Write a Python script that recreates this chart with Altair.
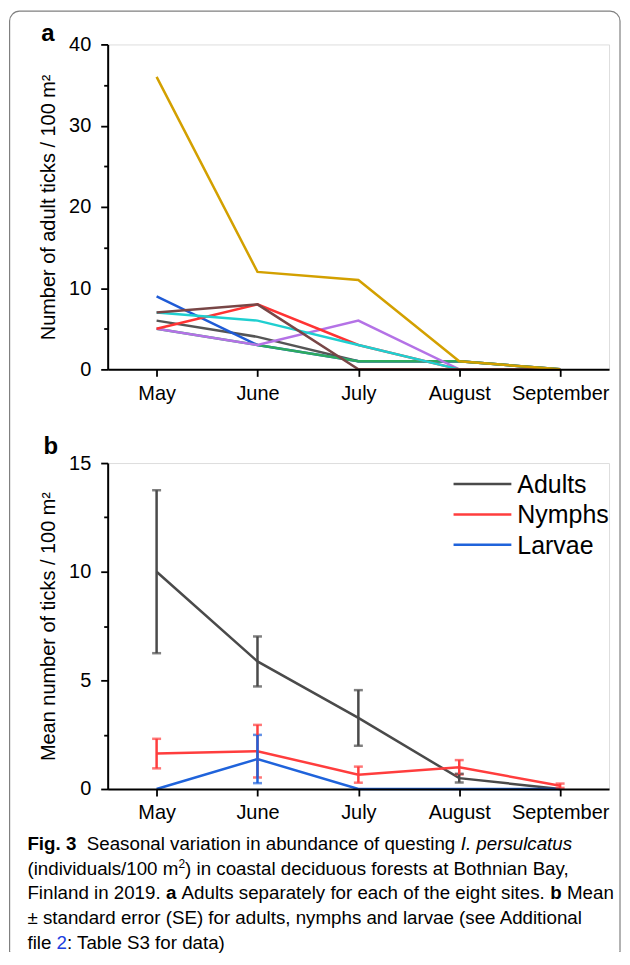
import altair as alt
import pandas as pd

months = ["May", "June", "July", "August", "September"]

# Panel a: adult ticks per site
site_names = ["s_gray", "s_blue", "s_green", "s_purple", "s_red", "s_cyan", "s_brown", "s_gold"]
site_gray = [6, 4, 1, 1, 0]
site_blue = [9, 3, 1, 1, 0]
site_green = [5, 3, 1, 1, 0]
site_purple = [5, 3, 6, 0, 0]
site_red = [5, 8, 3, 0, 0]
site_cyan = [7, 6, 3, 0, 0]
site_brown = [7, 8, 0, 0, 0]
site_gold = [36, 12, 11, 1, 0]
site_values = [site_gray, site_blue, site_green, site_purple, site_red, site_cyan, site_brown, site_gold]
site_colors = ["#555555", "#1F5BD6", "#2DAA5F", "#B472E6", "#FF3333", "#1FCFD0", "#784646", "#D3A000"]

# Panel b: mean +- SE
series = ["Adults", "Nymphs", "Larvae"]
series_colors = ["#4A4A4A", "#FF3D3D", "#1F63DB"]
adult_mean = [10.0, 5.87, 3.27, 0.5, 0.0]
adult_se = [3.75, 1.15, 1.28, 0.2, 0.0]
nymph_mean = [1.63, 1.74, 0.66, 1.0, 0.15]
nymph_se = [0.68, 1.21, 0.37, 0.33, 0.1]
larvae_mean = [0.0, 1.38, 0.0, 0.0, 0.0]
larvae_se = [0.0, 1.11, 0.0, 0.0, 0.0]

W, HA, HB = 503, 326, 327
OX, OYA, OYB = 107, 42, 462  # page origins of the plot areas

AX = dict(labelFont="Liberation Sans", titleFont="Liberation Sans", labelFontSize=20,
          titleFontSize=20, labelColor="black", titleColor="black", domainColor="black",
          tickColor="black", domainWidth=2, tickWidth=1.8, grid=False,
          titleFontWeight="normal", zindex=1)

x_scale = alt.Scale(type="point", domain=months, padding=0.485)
x_axis = alt.Axis(title=None, labelAngle=0, tickSize=7, labelPadding=7, **AX)


def y_axis(title, step, major, top, h):
    n = int(round(top / step))
    vals = [i * step for i in range(n + 1)]
    return alt.Axis(title=title, values=vals,
                    labelExpr=f"datum.value % {major} === 0 ? datum.label : ''",
                    tickSize={"condition": {"test": f"datum.value % {major} === 0", "value": 7}, "value": 4},
                    labelPadding=10, titleX=-59, titleY=h / 2, titleAngle=-90,
                    titleAlign="center", titleBaseline="middle", **AX)


ya_axis = y_axis("Number of adult ticks / 100 m²", 5, 10, 40, HA)
yb_axis = y_axis("Mean number of ticks / 100 m²", 2.5, 5, 15, HB)

one = alt.Data(values=[{}])

# ---------- panel a ----------
FR_L, FR_R, FR_T, FR_B = 8, 621, 8, 952
layers_a = []
frame = alt.Chart(one).mark_rect(fill="white", fillOpacity=0, stroke="#808080", strokeWidth=1.2,
                                 cornerRadiusTopLeft=10, cornerRadiusTopRight=10).encode(
    x=alt.value(FR_L + 0.6 - OX), x2=alt.value(FR_R - OX),
    y=alt.value(FR_T + 0.6 - OYA), y2=alt.value(FR_B - OYA))
frame_cut = alt.Chart(one).mark_rule(color="white", strokeWidth=3).encode(
    x=alt.value(FR_L + 1.3 - OX), x2=alt.value(FR_R - 0.7 - OX), y=alt.value(FR_B - OYA))
layers_a += [frame, frame_cut]
for name, vals, col in zip(site_names, site_values, site_colors):
    df = pd.DataFrame({"month": months, "value": vals})
    layers_a.append(
        alt.Chart(df).mark_line(color=col, strokeWidth=2.5).encode(
            x=alt.X("month:N", scale=x_scale, axis=x_axis, sort=months),
            y=alt.Y("value:Q", scale=alt.Scale(domain=[0, 40], nice=False), axis=ya_axis)))
lab_a = alt.Chart(one).mark_text(text="a", fontWeight="bold", fontSize=24, font="Liberation Sans",
                                 align="center", baseline="alphabetic").encode(
    x=alt.value(47 - OX), y=alt.value(39 - OYA))
layers_a.append(lab_a)
panel_a = alt.layer(*layers_a).properties(width=W, height=HA)

# ---------- panel b ----------
rows = []
for s, m, e in zip(series, [adult_mean, nymph_mean, larvae_mean], [adult_se, nymph_se, larvae_se]):
    for mo, mv, ev in zip(months, m, e):
        rows.append({"series": s, "month": mo, "mean": mv, "lo": mv - ev, "hi": mv + ev, "se": ev})
dfb = pd.DataFrame(rows)

yb_scale = alt.Scale(domain=[0, 15], nice=False)
color_b = alt.Color("series:N", scale=alt.Scale(domain=series, range=series_colors), legend=None)

lines_b = alt.Chart(dfb).transform_calculate(
    month_idx="indexof(['May','June','July','August','September'], datum.month)"
).mark_line(strokeWidth=2.5).encode(
    x=alt.X("month:N", scale=x_scale, axis=x_axis, sort=months),
    y=alt.Y("mean:Q", scale=yb_scale, axis=yb_axis),
    color=color_b,
    order=alt.Order("month_idx:Q"),
)

err_b = alt.Chart(dfb).transform_filter("datum.se > 0").mark_errorbar(
    thickness=2.5, ticks={"size": 9, "thickness": 2.5}).encode(
    x=alt.X("month:N", scale=x_scale, axis=x_axis, sort=months),
    y=alt.Y("lo:Q", scale=yb_scale, axis=yb_axis),
    y2="hi:Q",
    color=color_b,
)

lab_b = alt.Chart(one).mark_text(text="b", fontWeight="bold", fontSize=24, font="Liberation Sans",
                                 align="center", baseline="alphabetic").encode(
    x=alt.value(50 - OX), y=alt.value(453 - OYB))

# legend (drawn by hand for exact spacing)
leg_layers = []
for i, (s, col) in enumerate(zip(series, series_colors)):
    yy = 483 + 30.5 * i - OYB
    leg_layers.append(alt.Chart(one).mark_rule(color=col, strokeWidth=2.5).encode(
        x=alt.value(454 - OX), x2=alt.value(512 - OX), y=alt.value(yy)))
    leg_layers.append(alt.Chart(one).mark_text(text=s, font="Liberation Sans", fontSize=25,
                                               color="black", align="left", baseline="middle").encode(
        x=alt.value(518 - OX), y=alt.value(yy + 1)))

# ---------- caption ----------
ARIAL = {" ": 278, "(": 333, ")": 333, ",": 278, ".": 278, "/": 278, ":": 278, "±": 584,
         "A": 667, "B": 667, "E": 667, "F": 611, "I": 278, "M": 833, "S": 667, "T": 611}
for d in "0123456789":
    ARIAL[d] = 556
for ch, w in zip("abcdefghijklmnopqrstuvwxyz",
                 [556, 556, 500, 556, 556, 278, 556, 556, 222, 222, 500, 222, 833,
                  556, 556, 556, 556, 333, 500, 278, 556, 500, 722, 500, 500, 500]):
    ARIAL[ch] = w
ARIAL_BOLD = dict(ARIAL)
ARIAL_BOLD.update({"i": 278, "g": 611, "b": 611, "F": 611, "l": 278})

CAP_SIZE = 18.8
CAP_FONT = "Liberation Sans"


def tw(s, bold=False, size=CAP_SIZE):
    tab = ARIAL_BOLD if bold else ARIAL
    return sum(tab.get(c, 556) for c in s) * size / 1000.0


# caption lines: list of segments (text, style)
cap_line1 = [("Fig. 3", "b"), ("  ", "n"), ("Seasonal variation in abundance of questing ", "n"),
             ("I. persulcatus", "i")]
cap_line2 = [("(individuals/100 m", "n"), ("2", "sup"),
             (") in coastal deciduous forests at Bothnian Bay,", "n")]
cap_line3 = [("Finland in 2019. ", "n"), ("a", "b"), (" Adults separately for each of the eight sites. ", "n"),
             ("b", "b"), (" Mean", "n")]
cap_line4 = [("± standard error (SE) for adults, nymphs and larvae (see Additional", "n")]
cap_line5 = [("file ", "n"), ("2", "link"), (": Table S3 for data)", "n")]
cap_lines = [cap_line1, cap_line2, cap_line3, cap_line4, cap_line5]

cap_layers = []
base_y0, line_gap, x0 = 850, 24.8, 26.5
for li, line in enumerate(cap_lines):
    x = x0
    by = base_y0 + li * line_gap
    for text, st in line:
        size = CAP_SIZE
        weight, style, col, yoff = "normal", "normal", "black", 0
        if st == "b":
            weight = "bold"
        elif st == "i":
            style = "italic"
        elif st == "sup":
            size, yoff = 12, -7
        elif st == "link":
            col = "#2040E0"
        body = text.strip()
        if body:
            lead = len(text) - len(text.lstrip())
            xd = x + tw(" " * lead, weight == "bold", size)
            cap_layers.append(
                alt.Chart(one).mark_text(text=body, font=CAP_FONT, fontSize=size, fontWeight=weight,
                                         fontStyle=style, color=col, align="left",
                                         baseline="alphabetic").encode(
                    x=alt.value(xd - OX), y=alt.value(by + yoff - OYB)))
        x += tw(text, weight == "bold", size)

panel_b = alt.layer(lines_b, err_b, lab_b, *leg_layers, *cap_layers).properties(width=W, height=HB)

chart = alt.vconcat(panel_a, panel_b, spacing=94, bounds="flush").properties(
    padding=0
).configure_view(stroke=None).configure(background="white")

chart.save("out.html", embed_options={"renderer": "svg", "actions": False})
